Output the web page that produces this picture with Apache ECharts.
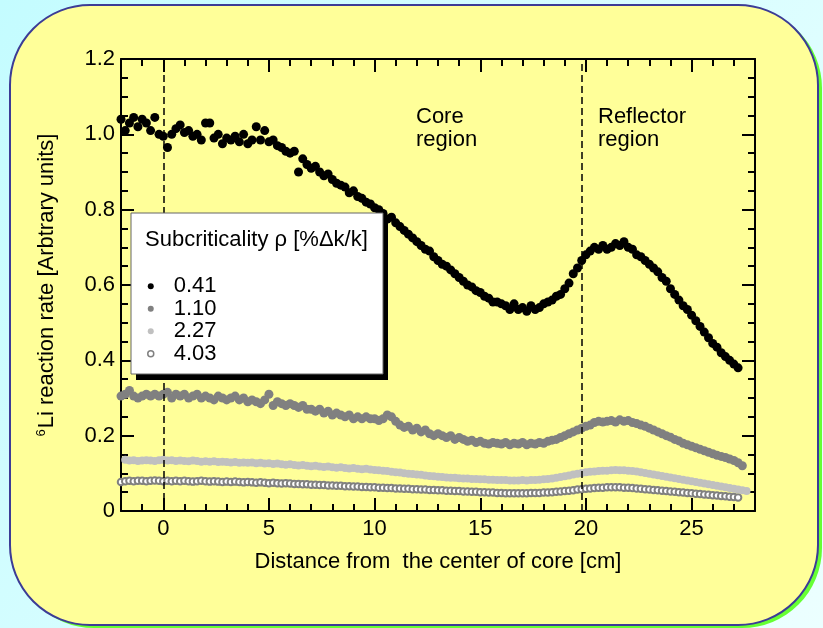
<!DOCTYPE html>
<html>
<head>
<meta charset="utf-8">
<script src="https://cdn.jsdelivr.net/npm/echarts@6/dist/echarts.min.js"></script>
<style>
html,body{margin:0;padding:0;}
#chart{width:823px;height:628px;}
</style>
</head>
<body>
<div id="chart"></div>
<script>
// Distance from the center of core [cm]
var distance = [
-2.0,-1.8,-1.6,-1.4,-1.2,-1.0,-0.8,-0.6,-0.4,-0.2,
0.0,0.2,0.4,0.6,0.8,1.0,1.2,1.4,1.6,1.8,
2.0,2.2,2.4,2.6,2.8,3.0,3.2,3.4,3.6,3.8,
4.0,4.2,4.4,4.6,4.8,5.0,5.2,5.4,5.6,5.8,
6.0,6.2,6.4,6.6,6.8,7.0,7.2,7.4,7.6,7.8,
8.0,8.2,8.4,8.6,8.8,9.0,9.2,9.4,9.6,9.8,
10.0,10.2,10.4,10.6,10.8,11.0,11.2,11.4,11.6,11.8,
12.0,12.2,12.4,12.6,12.8,13.0,13.2,13.4,13.6,13.8,
14.0,14.2,14.4,14.6,14.8,15.0,15.2,15.4,15.6,15.8,
16.0,16.2,16.4,16.6,16.8,17.0,17.2,17.4,17.6,17.8,
18.0,18.2,18.4,18.6,18.8,19.0,19.2,19.4,19.6,19.8,
20.0,20.2,20.4,20.6,20.8,21.0,21.2,21.4,21.6,21.8,
22.0,22.2,22.4,22.6,22.8,23.0,23.2,23.4,23.6,23.8,
24.0,24.2,24.4,24.6,24.8,25.0,25.2,25.4,25.6,25.8,
26.0,26.2,26.4,26.6,26.8,27.0,27.2,27.4,27.6
];
// rho = 0.41 %dk/k
var rate041 = [
1.04,1.01,1.03,1.045,1.02,1.04,1.03,1.01,1.045,1.00,
0.995,0.965,1.00,1.015,1.025,1.005,1.01,0.995,1.00,0.985,
1.03,1.03,0.99,1.00,0.975,0.99,0.985,0.995,0.98,1.00,
0.975,0.985,1.02,0.985,1.01,0.98,0.985,0.97,0.965,0.955,
0.95,0.955,0.90,0.935,0.92,0.91,0.915,0.90,0.89,0.895,
0.88,0.87,0.865,0.86,0.845,0.85,0.835,0.83,0.82,0.815,
0.805,0.80,0.79,0.775,0.78,0.765,0.755,0.745,0.735,0.725,
0.715,0.705,0.695,0.69,0.675,0.665,0.655,0.65,0.64,0.63,
0.62,0.61,0.60,0.595,0.585,0.58,0.57,0.565,0.555,0.555,
0.55,0.545,0.535,0.55,0.535,0.54,0.53,0.545,0.535,0.54,
0.55,0.555,0.56,0.57,0.575,0.59,0.605,0.63,0.645,0.665,
0.68,0.69,0.70,0.695,0.705,0.695,0.70,0.71,0.705,0.715,
0.70,0.695,0.68,0.675,0.665,0.655,0.645,0.635,0.62,0.61,
0.59,0.575,0.56,0.545,0.535,0.52,0.505,0.49,0.475,0.46,
0.445,0.435,0.42,0.41,0.40,0.39,0.38
];
// rho = 1.10 %dk/k
var rate110 = [
0.305,0.31,0.32,0.305,0.30,0.305,0.31,0.305,0.31,0.305,
0.31,0.315,0.30,0.31,0.305,0.31,0.30,0.305,0.31,0.30,
0.305,0.30,0.295,0.305,0.30,0.295,0.30,0.305,0.295,0.30,
0.29,0.295,0.29,0.285,0.295,0.31,0.28,0.29,0.285,0.28,
0.285,0.28,0.275,0.28,0.27,0.27,0.265,0.27,0.26,0.265,
0.255,0.26,0.255,0.25,0.255,0.245,0.25,0.245,0.25,0.245,
0.245,0.24,0.245,0.255,0.25,0.238,0.228,0.222,0.225,0.215,
0.22,0.21,0.215,0.205,0.20,0.205,0.20,0.195,0.20,0.19,
0.195,0.19,0.185,0.188,0.182,0.185,0.18,0.178,0.182,0.18,
0.178,0.182,0.176,0.18,0.178,0.182,0.176,0.18,0.178,0.182,
0.18,0.185,0.188,0.19,0.195,0.20,0.205,0.21,0.215,0.22,
0.225,0.228,0.235,0.238,0.236,0.238,0.24,0.236,0.242,0.238,
0.24,0.235,0.232,0.228,0.225,0.22,0.215,0.21,0.205,0.20,
0.196,0.19,0.186,0.18,0.176,0.172,0.168,0.164,0.16,0.156,
0.152,0.148,0.145,0.142,0.138,0.134,0.128,0.12
];
// rho = 2.27 %dk/k
var rate227 = [
null,0.136,0.134,0.135,0.133,0.134,0.135,0.134,0.133,0.135,
0.136,0.134,0.135,0.133,0.134,0.133,0.132,0.134,0.133,0.131,
0.132,0.131,0.132,0.13,0.131,0.13,0.129,0.13,0.128,0.129,
0.128,0.129,0.127,0.128,0.126,0.127,0.125,0.126,0.124,0.123,
0.124,0.122,0.121,0.122,0.12,0.119,0.12,0.118,0.117,0.118,
0.116,0.115,0.116,0.114,0.113,0.114,0.112,0.111,0.112,0.11,
0.109,0.108,0.107,0.106,0.104,0.103,0.102,0.10,0.099,0.098,
0.097,0.096,0.094,0.093,0.092,0.091,0.09,0.089,0.088,0.088,
0.087,0.086,0.086,0.085,0.085,0.084,0.084,0.083,0.083,0.082,
0.082,0.082,0.081,0.081,0.081,0.082,0.081,0.082,0.082,0.083,
0.084,0.085,0.086,0.088,0.09,0.092,0.094,0.097,0.099,0.101,
0.103,0.104,0.105,0.106,0.107,0.107,0.108,0.109,0.108,0.108,
0.107,0.106,0.105,0.103,0.101,0.099,0.097,0.095,0.093,0.091,
0.089,0.087,0.085,0.083,0.081,0.079,0.077,0.075,0.073,0.071,
0.069,0.067,0.065,0.063,0.061,0.059,0.057,0.055,0.053
];
// rho = 4.03 %dk/k
var rate403 = [
0.077,0.079,0.08,0.079,0.08,0.08,0.079,0.08,0.081,0.08,
0.079,0.08,0.079,0.08,0.079,0.08,0.079,0.078,0.079,0.08,
0.079,0.078,0.079,0.078,0.077,0.078,0.077,0.078,0.077,0.076,
0.077,0.076,0.075,0.076,0.075,0.074,0.075,0.074,0.073,0.074,
0.073,0.072,0.072,0.071,0.071,0.07,0.07,0.069,0.069,0.068,
0.068,0.067,0.067,0.066,0.066,0.065,0.065,0.064,0.064,0.063,
0.063,0.062,0.062,0.061,0.061,0.06,0.06,0.059,0.059,0.058,
0.058,0.057,0.057,0.056,0.056,0.055,0.055,0.054,0.054,0.053,
0.053,0.052,0.052,0.051,0.051,0.05,0.05,0.049,0.049,0.048,
0.048,0.047,0.047,0.047,0.047,0.047,0.047,0.048,0.048,0.048,
0.049,0.049,0.05,0.051,0.052,0.053,0.054,0.055,0.057,0.058,
0.059,0.06,0.061,0.062,0.062,0.063,0.063,0.063,0.063,0.062,
0.062,0.061,0.06,0.059,0.058,0.057,0.056,0.055,0.054,0.053,
0.052,0.051,0.05,0.049,0.048,0.047,0.046,0.045,0.044,0.043,
0.042,0.041,0.04,0.039,0.038,0.037,0.036
];
var seriesNames = ['0.41','1.10','2.27','4.03'];
var xMajorTicks = [0,5,10,15,20,25];
var boundaryLines = [0, 19.8];

function pairs(ys){
  var out=[];
  for(var i=0;i<ys.length;i++){ if(ys[i]!=null) out.push([distance[i], ys[i]]); }
  return out;
}

var FONT = '"Liberation Sans", Arial, Helvetica, sans-serif';
var chart = echarts.init(document.getElementById('chart'), null, {renderer:'canvas'});

var tickStyle = {color:'#000', width:2};
function xAxisBase(pos){
  return {type:'value', position:pos, min:-2, max:28, gridIndex:0,
    splitLine:{show:false}, axisLine:{show:false, onZero:false},
    axisLabel:{show:false}};
}
var xAxes = [];
var xa0 = xAxisBase('bottom');
xa0.axisLine = {show:true, onZero:false, lineStyle:{color:'#000', width:2}};
xa0.axisTick = {show:true, inside:true, length:13, customValues:xMajorTicks, lineStyle:tickStyle};
xa0.axisLabel = {show:true, customValues:xMajorTicks, color:'#000', fontSize:22, fontFamily:FONT, margin:7};
xa0.name = 'Distance from  the center of core [cm]';
xa0.nameLocation = 'middle';
xa0.nameGap = 40;
xa0.nameTextStyle = {color:'#000', fontSize:22, fontFamily:FONT};
xAxes.push(xa0);
var xa1 = xAxisBase('bottom'); xa1.interval = 1;
xa1.axisTick = {show:true, inside:true, length:7, lineStyle:tickStyle};
xAxes.push(xa1);
var xa2 = xAxisBase('top');
xa2.axisLine = {show:true, onZero:false, lineStyle:{color:'#000', width:2}};
xa2.axisTick = {show:true, inside:true, length:13, customValues:xMajorTicks, lineStyle:tickStyle};
xAxes.push(xa2);
var xa3 = xAxisBase('top'); xa3.interval = 1;
xa3.axisTick = {show:true, inside:true, length:7, lineStyle:tickStyle};
xAxes.push(xa3);

function yAxisBase(pos, labels){
  return {type:'value', position:pos, min:0, max:1.2, interval:0.2,
    splitLine:{show:false}, minorSplitLine:{show:false},
    axisLine:{show:true, onZero:false, lineStyle:{color:'#000', width:2}},
    axisTick:{show:true, inside:true, length:13, lineStyle:tickStyle},
    minorTick:{show:true, splitNumber:4, length:7, lineStyle:tickStyle},
    axisLabel:{show:labels, color:'#000', fontSize:22, fontFamily:FONT, margin:6,
      formatter:function(v){ return v===0 ? '0' : v.toFixed(1); }}
  };
}
var ya0 = yAxisBase('left', true);
ya0.name = '{sup|6}Li reaction rate [Arbtrary units]';
ya0.nameLocation = 'middle';
ya0.nameGap = 62;
ya0.nameRotate = 90;
ya0.nameTextStyle = {color:'#000', fontSize:22, fontFamily:FONT, lineHeight:24,
  rich:{sup:{fontSize:13, fontFamily:FONT, color:'#000', verticalAlign:'top', lineHeight:13, padding:[0,1,9,0]}}};
var ya1 = yAxisBase('right', false);

var option = {
  backgroundColor: {type:'linear', x:0, y:0, x2:1, y2:1,
    colorStops:[{offset:0, color:'#c4fcff'},{offset:1, color:'#ecffff'}]},
  animation:false,
  grid:{left:121, right:68, top:59, bottom:117, containLabel:false},
  xAxis: xAxes,
  yAxis: [ya0, ya1],
  legend:{
    orient:'vertical', left:147, top:275, padding:0, itemGap:0,
    itemWidth:36, itemHeight:6, selectedMode:false, z:60,
    textStyle:{color:'#000', fontSize:22, fontFamily:FONT, lineHeight:22.5},
    data:[
      {name:'0.41', icon:'circle', itemStyle:{color:'#000', opacity:1}},
      {name:'1.10', icon:'circle', itemStyle:{color:'#808080', opacity:1}},
      {name:'2.27', icon:'circle', itemStyle:{color:'#c0c0c0', opacity:1}},
      {name:'4.03', icon:'circle', itemStyle:{color:'#ffffff', borderColor:'#808080', borderWidth:1.5, opacity:1}}
    ]
  },
  graphic:{elements:[
    {type:'rect', z:-20, silent:true, shape:{x:14, y:8, width:808, height:620, r:80}, style:{fill:'#66ff33'}},
    {type:'rect', z:-19, silent:true, shape:{x:10, y:5, width:808, height:620, r:80}, style:{fill:'#ffff99', stroke:'#3c3c96', lineWidth:2}},
    {type:'rect', z:50, silent:true, shape:{x:136, y:219, width:252, height:161}, style:{fill:'#000'}},
    {type:'rect', z:51, silent:true, shape:{x:131, y:213, width:252, height:161}, style:{fill:'#fff', stroke:'#666', lineWidth:1}},
    {type:'text', z:52, silent:true, x:145, y:229, style:{text:'Subcriticality \u03c1 [%\u0394k/k]', fill:'#000', font:'22px '+FONT}},
    {type:'text', z:52, silent:true, x:416, y:105, style:{text:'Core\nregion', fill:'#000', font:'22px '+FONT, lineHeight:23}},
    {type:'text', z:52, silent:true, x:598, y:105, style:{text:'Reflector\nregion', fill:'#000', font:'22px '+FONT, lineHeight:23}}
  ]},
  series:[
    {name:seriesNames[3], type:'scatter', data:pairs(rate403), symbol:'emptyCircle', symbolSize:6.5,
      itemStyle:{color:'#808080', borderColor:'#808080', borderWidth:1.4, opacity:1}, z:2},
    {name:seriesNames[2], type:'scatter', data:pairs(rate227), symbol:'circle', symbolSize:8,
      itemStyle:{color:'#c0c0c0', opacity:1}, z:2},
    {name:seriesNames[1], type:'scatter', data:pairs(rate110), symbol:'circle', symbolSize:9,
      itemStyle:{color:'#808080', opacity:1}, z:2},
    {name:seriesNames[0], type:'scatter', data:pairs(rate041), symbol:'circle', symbolSize:9,
      itemStyle:{color:'#000', opacity:1}, z:3,
      markLine:{silent:true, symbol:['none','none'], label:{show:false},
        lineStyle:{color:'#000', width:1.5, type:[7,4], opacity:1},
        data: boundaryLines.map(function(v){ return {xAxis:v}; })}}
  ]
};
chart.setOption(option);
</script>
</body>
</html>
